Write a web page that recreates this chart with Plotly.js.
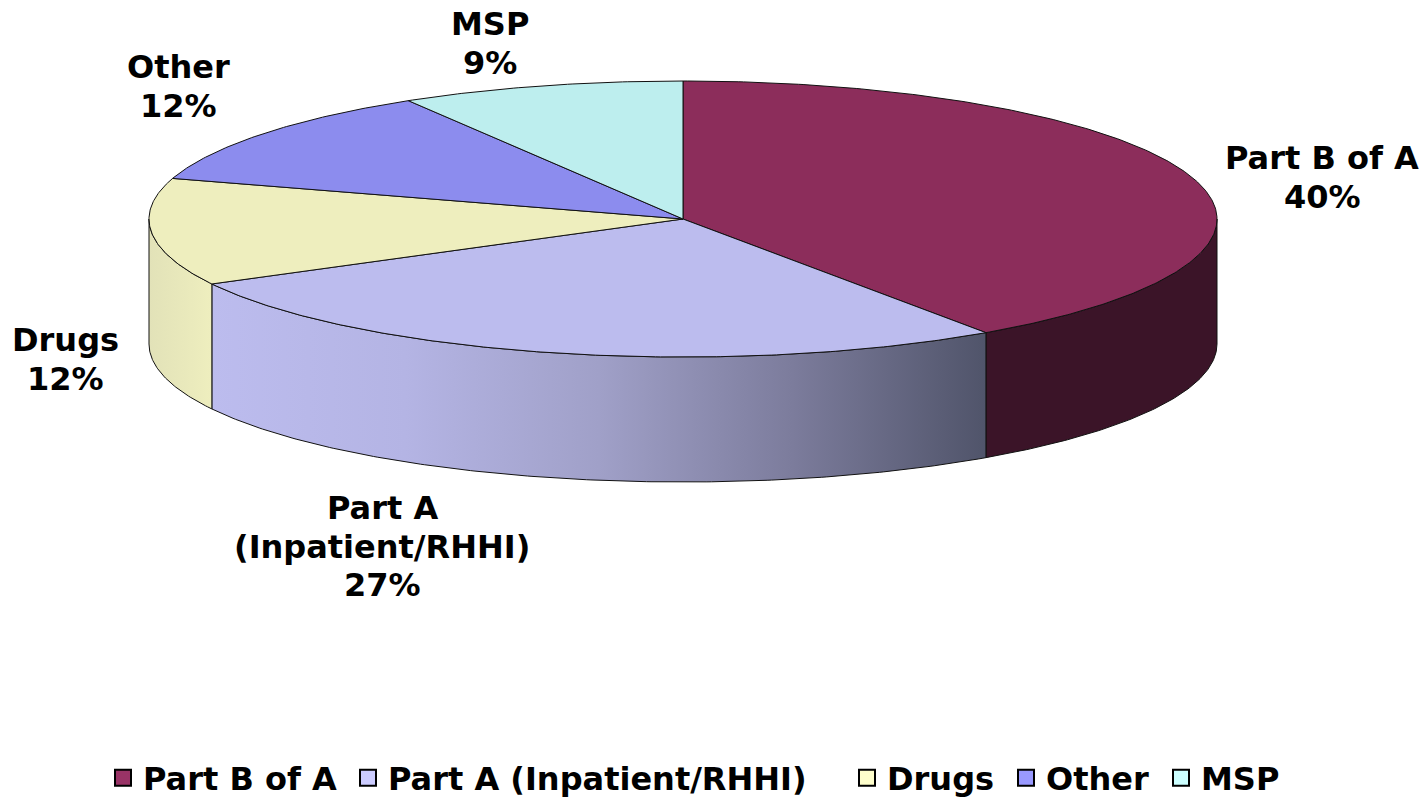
<!DOCTYPE html>
<html>
<head>
<meta charset="utf-8">
<script src="https://cdn.plot.ly/plotly-3.0.1.min.js"></script>
<style>html,body{margin:0;padding:0;background:#fff;overflow:hidden}#chart{width:1427px;height:797px}</style>
</head>
<body>
<div id="chart"></div>
<script>
// Data
const categories = ['Part B of A', 'Part A (Inpatient/RHHI)', 'Drugs', 'Other', 'MSP'];
const labelLines = [['Part B of A'], ['Part A', '(Inpatient/RHHI)'], ['Drugs'], ['Other'], ['MSP']];
const shares = [40.4, 26.8, 12.55, 11.65, 8.6];     // slice sizes measured on the pie
const shownPercent = [40, 27, 12, 12, 9];           // printed labels

// Styles
const topColors = ['#8c2d5b', '#bcbcee', '#eeeebe', '#8c8cee', '#bdeeee'];
const legendColors = ['#993366', '#ccccff', '#ffffcc', '#9999ff', '#ccffff'];
const sideScales = [
  [[0, '#3b1428'], [1, '#3b1428']],
  [[0, '#bcbcee'], [0.25, '#b4b4e4'], [0.5, '#a0a0c8'], [0.75, '#7c7c9c'], [1, '#50546a']],
  [[0, '#e2e2b8'], [1, '#eeeebe']]
];

// Pie geometry (axis units equal page pixels)
const cx = 683, cy = 219, rx = 534, ry = 138, depth = 125;
const labelX = [1322, 382, 65, 178, 490];
const labelTopY = [158, 508, 340, 67, 24];
const lineStep = 38.5;
const legendLeft = [114, 359, 858, 1017, 1172];
const legendSwatchInset = 11;
const legendCenterY = 778;

const rad = d => d * Math.PI / 180;
const px = a => cx + rx * Math.sin(rad(a));
const py = (a, dz) => cy - ry * Math.cos(rad(a)) + (dz || 0);
function arcAngles(a0, a1) {
  const n = Math.max(2, Math.ceil(Math.abs(a1 - a0) * 2));
  return Array.from({length: n + 1}, (_, i) => a0 + (a1 - a0) * i / n);
}

const total = shares.reduce((s, v) => s + v, 0);
let running = 0;
const slices = shares.map(v => {
  const s = {a0: running / total * 360};
  running += v;
  s.a1 = running / total * 360;
  return s;
});

const FONT = '"DejaVu Sans", Verdana, sans-serif';
const textFont = {family: FONT, size: 32, color: '#000000', weight: 700};

const sideTraces = [], topTraces = [], legendTraces = [], legends = {};
slices.forEach((s, i) => {
  const v0 = Math.max(s.a0, 90), v1 = Math.min(s.a1, 270);
  if (v1 > v0) {
    const arc = arcAngles(v0, v1);
    const back = arc.slice().reverse();
    sideTraces.push({
      x: arc.map(a => px(a)).concat(back.map(a => px(a)), [px(v0)]),
      y: arc.map(a => py(a, 0)).concat(back.map(a => py(a, depth)), [py(v0, 0)]),
      mode: 'lines', fill: 'toself',
      line: {color: '#111111', width: 1},
      fillgradient: {type: 'horizontal', colorscale: sideScales[i]},
      hoverinfo: 'skip', showlegend: false
    });
  }
  const arc = arcAngles(s.a0, s.a1);
  topTraces.push({
    x: [cx].concat(arc.map(a => px(a)), [cx]),
    y: [cy].concat(arc.map(a => py(a, 0)), [cy]),
    mode: 'lines', fill: 'toself', fillcolor: topColors[i],
    line: {color: '#111111', width: 1},
    name: categories[i], hoverinfo: 'name', showlegend: false
  });
  const key = i === 0 ? 'legend' : 'legend' + (i + 1);
  legendTraces.push({
    x: [null], y: [null], mode: 'markers', name: categories[i], legend: key,
    marker: {symbol: 'square', size: 16, color: legendColors[i], line: {color: '#000000', width: 2}}
  });
  legends[key] = {
    orientation: 'h', xanchor: 'left', yanchor: 'middle',
    x: (legendLeft[i] - legendSwatchInset) / 1427, y: 1 - legendCenterY / 797,
    font: textFont, itemwidth: 30, bgcolor: 'rgba(0,0,0,0)'
  };
});

const annotations = [];
categories.forEach((c, i) => {
  labelLines[i].concat([shownPercent[i] + '%']).forEach((line, k) => {
    annotations.push({
      x: labelX[i], y: labelTopY[i] + k * lineStep, xref: 'x', yref: 'y',
      text: line, showarrow: false, align: 'center', xanchor: 'center', yanchor: 'middle',
      font: textFont
    });
  });
});

const layout = Object.assign({
  width: 1427, height: 797,
  margin: {l: 0, r: 0, t: 0, b: 0, autoexpand: false},
  paper_bgcolor: '#ffffff', plot_bgcolor: '#ffffff',
  xaxis: {range: [0, 1427], visible: false, fixedrange: true},
  yaxis: {range: [797, 0], visible: false, fixedrange: true},
  annotations,
  showlegend: true
}, legends);

Plotly.newPlot('chart', sideTraces.concat(topTraces, legendTraces), layout, {displayModeBar: false, responsive: false});
</script>
</body>
</html>
